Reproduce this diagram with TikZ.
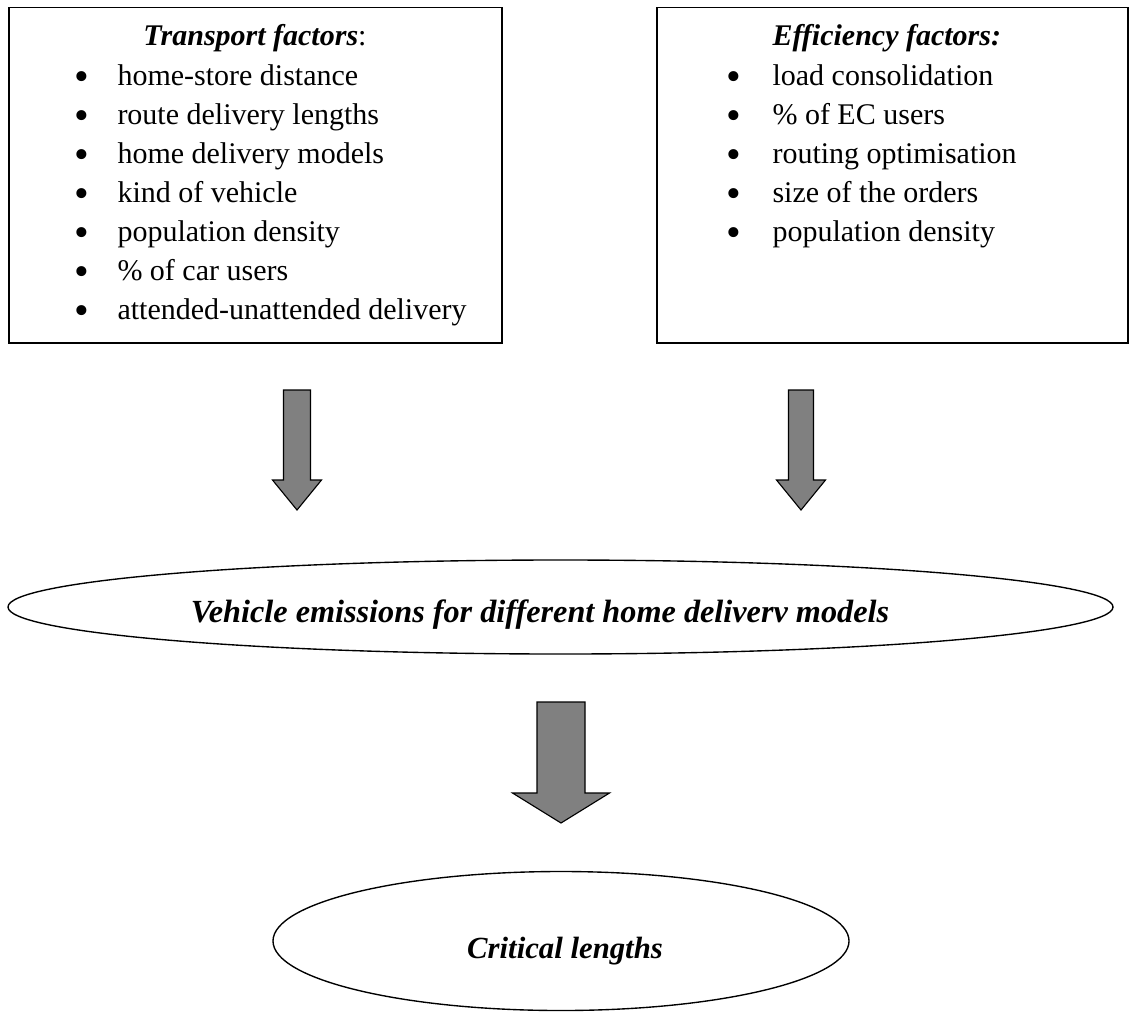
\documentclass[tikz,border=0pt]{standalone}
\usepackage{fontspec}
\setmainfont{Liberation Serif}
\usetikzlibrary{shapes.geometric}

\newcommand{\itembullet}{\raisebox{-2pt}{\scalebox{1.4}{\textbullet}}}

\tikzset{
  factorbox/.style={draw, line width=0.6pt, rectangle, anchor=north west, inner sep=0pt, minimum height=134pt},
  headtext/.style={inner sep=0pt, font=\fontsize{12}{15.6}\selectfont},
  itemlist/.style={inner sep=0pt, anchor=north west, font=\fontsize{12}{15.6}\selectfont},
  bubble/.style={draw, ellipse, line width=0.55pt, inner sep=0pt},
  bubbletext/.style={inner sep=0pt, anchor=base, font=\bfseries\itshape},
  blockarrow/.style={draw, line width=0.45pt, fill=gray, line join=miter}
}

\begin{document}
\begin{tikzpicture}[x=0.4pt, y=-0.4pt]
  \useasboundingbox (0,0) rectangle (1130,1012);

  % factor boxes
  \node[factorbox, minimum width=197.2pt] (transp) at (8,7) {};
  \node[factorbox, minimum width=188.4pt] (effic) at (656,7) {};

  \node[headtext, anchor=base] (transptitle) at (255,46) {\textbf{\textit{Transport factors}}:};
  \node[itemlist] (transplist) at (74,57.7) {%
    \begin{tabular}{@{}p{17.2pt}@{}l@{}}
      \itembullet & home-store distance\\
      \itembullet & route delivery lengths\\
      \itembullet & home delivery models\\
      \itembullet & kind of vehicle\\
      \itembullet & population density\\
      \itembullet & \% of car users\\
      \itembullet & attended-unattended delivery
    \end{tabular}};

  \node[headtext, anchor=base west] (effictitle) at (772,46) {\textbf{\textit{Efficiency factors:}}};
  \node[itemlist] (efficlist) at (726,57.7) {%
    \begin{tabular}{@{}p{18.4pt}@{}l@{}}
      \itembullet & load consolidation\\
      \itembullet & \% of EC users\\
      \itembullet & routing optimisation\\
      \itembullet & size of the orders\\
      \itembullet & population density
    \end{tabular}};

  % ellipses
  \node[bubble, minimum width=442pt, minimum height=37.6pt] (emis) at (560.5,607) {};
  \node[bubbletext, font=\fontsize{12.9}{15}\selectfont\bfseries\itshape] (emistext) at (540,622) {Vehicle emissions for different home deliverv models};
  \node[bubble, minimum width=230.4pt, minimum height=55.6pt] (crit) at (561,941) {};
  \node[bubbletext, font=\fontsize{12.3}{15}\selectfont\bfseries\itshape] (crittext) at (565,958) {Critical lengths};

  % block arrows
  \coordinate (tail1) at (297,390);
  \coordinate (tail2) at (801,390);
  \coordinate (tail3) at (561,702);
  \draw[blockarrow, shift={(tail1)}] (-13.5,0) -- (13.5,0) -- (13.5,90) -- (24.5,90) -- (0,120) -- (-24.5,90) -- (-13.5,90) -- cycle;
  \draw[blockarrow, shift={(tail2)}] (-12.5,0) -- (12.5,0) -- (12.5,90) -- (24.5,90) -- (0,120) -- (-24.5,90) -- (-12.5,90) -- cycle;
  \draw[blockarrow, shift={(tail3)}] (-24,0) -- (24,0) -- (24,91) -- (48.5,91) -- (0,121) -- (-48.5,91) -- (-24,91) -- cycle;
\end{tikzpicture}
\end{document}
